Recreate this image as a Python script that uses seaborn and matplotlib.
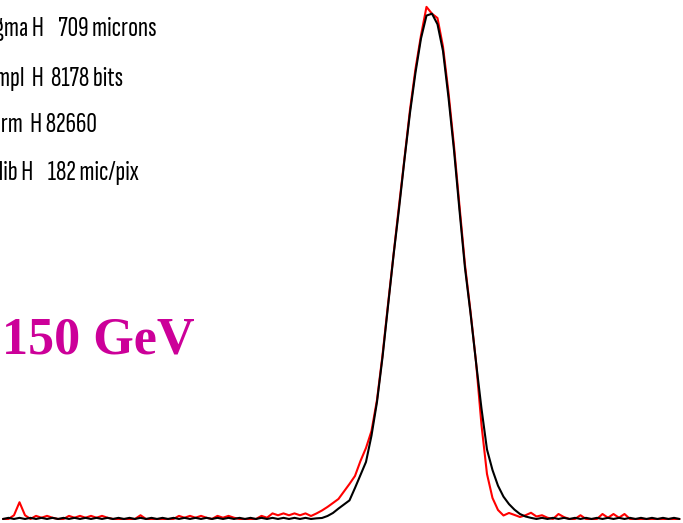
import matplotlib
matplotlib.use("Agg")
import matplotlib.pyplot as plt
import seaborn as sns
import pandas as pd

# bin index (histogram channel)
bins = list(range(124))

# black histogram (fit / reference), counts in bits
black_counts = [
    0, 18, 0, 18, 0, 18, 0, 18, 0, 18,
    0, 18, 0, 18, 0, 18, 0, 18, 0, 18,
    0, 18, 0, 18, 0, 18, 0, 18, 0, 18,
    0, 18, 0, 18, 0, 18, 0, 18, 0, 18,
    0, 18, 0, 18, 0, 18, 0, 18, 0, 18,
    0, 18, 0, 18, 0, 18, 0, 10, 16, 48,
    97, 168, 234, 300, 500, 710, 920, 1344, 1887, 2605,
    3430, 4245, 5000, 5800, 6550, 7200, 7750, 8120, 8150, 7980,
    7550, 6800, 5950, 4980, 4049, 3323, 2532, 1781, 1121, 790,
    537, 360, 240, 150, 80, 40, 18, 0, 18, 0,
    18, 0, 18, 0, 18, 0, 18, 0, 18, 0,
    18, 0, 18, 0, 18, 0, 18, 0, 18, 0,
    18, 0, 18, 0,
]

# red histogram (data), counts in bits
red_counts = [
    0, 0, 60, 270, 60, 0, 50, 20, 50, 20,
    0, 0, 50, 20, 50, 20, 50, 20, 50, 20,
    0, 0, 0, 0, 0, 60, 0, 0, 0, 0,
    0, 0, 50, 20, 50, 20, 50, 20, 0, 50,
    20, 50, 20, 0, 0, 0, 0, 50, 20, 90,
    60, 90, 60, 90, 60, 90, 48, 89, 137, 194,
    258, 323, 444, 565, 694, 936, 1145, 1420, 1920, 2640,
    3460, 4260, 5050, 5820, 6600, 7260, 7800, 8260, 8150, 8080,
    7620, 6880, 6020, 5050, 4100, 3350, 2540, 1516, 726, 339,
    145, 56, 97, 65, 32, 60, 100, 40, 60, 20,
    0, 80, 30, 0, 0, 60, 0, 0, 0, 80,
    20, 80, 20, 80, 0, 0, 0, 0, 0, 0,
    0, 0, 0, 0,
]

fit_labels = [
    "Sigma H    709 microns",
    "Ampl  H  8178 bits",
    "Norm  H 82660",
    "Calib H    182 mic/pix",
]
energy_label = "150 GeV"

sns.set_theme(style="white")

W, H = 683, 523
fig = plt.figure(figsize=(W / 100, H / 100), dpi=100)
ax = fig.add_axes([0, 0, 1, 1])

df_red = pd.DataFrame({"bin": bins, "counts": red_counts})
df_black = pd.DataFrame({"bin": bins, "counts": black_counts})

sns.lineplot(data=df_red, x="bin", y="counts", color="#ff0000", lw=1.5, ax=ax)
sns.lineplot(data=df_black, x="bin", y="counts", color="#000000", lw=1.5, ax=ax)

ax.set_xlim(-0.545, 123.64)
ax.set_ylim(-65, 8371)
ax.axis("off")

def px(x, y):
    return x / W, 1 - y / H

text_fam = ["Sofia Sans Extra Condensed", "DejaVu Sans"]
right_ends = [157, 123, 97, 139]
baselines = [36, 86, 132, 180]
for lab, xr, yb in zip(fit_labels, right_ends, baselines):
    fx, fy = px(xr, yb)
    fig.text(fx, fy, lab, ha="right", va="baseline", fontsize=21,
             family=text_fam, color="black")

fx, fy = px(2, 353)
fig.text(fx, fy, energy_label, ha="left", va="baseline", fontsize=37.5,
         family=["Liberation Serif", "DejaVu Serif"], fontweight="bold",
         color="#cc0099")

fig.savefig("out.png", dpi=100)
